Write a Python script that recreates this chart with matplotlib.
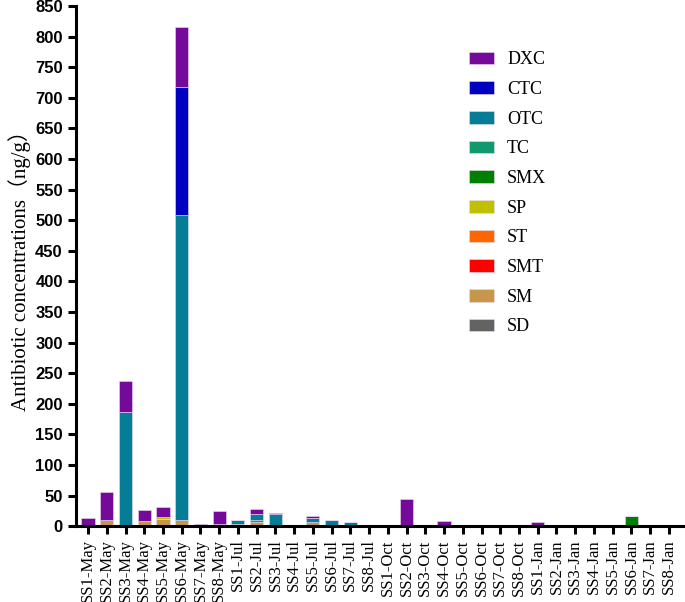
import matplotlib.pyplot as plt
import numpy as np

sites = ['SS1', 'SS2', 'SS3', 'SS4', 'SS5', 'SS6', 'SS7', 'SS8']
months = ['May', 'Jul', 'Oct', 'Jan']
labels = [s + '-' + m for m in months for s in sites]

# values in ng/g (May | Jul | Oct | Jan)
SD = [0]*8 + [0]*8 + [0]*8 + [0, 1, 0, 0, 0, 0, 0, 0]
SM = [2, 10, 2, 8, 11, 10, 0, 3] + [2, 7, 1, 0, 6, 0, 0, 0] + [0]*8 + [0]*8
SMT = [0]*32
ST = [0]*32
SP = [0, 0, 0, 1, 4, 0, 0, 0] + [0]*8 + [0]*8 + [0]*8
SMX = [0]*8 + [0]*8 + [0]*8 + [0, 0, 0, 0, 0, 16, 0, 0]
TC = [0]*8 + [2, 3, 0, 0, 0, 0, 0, 0] + [0]*8 + [0]*8
OTC = [0, 0, 185, 0, 0, 498, 0, 0] + [6, 10, 19, 0, 8, 10, 6, 0] + [0]*8 + [0]*8
CTC = [0, 0, 0, 0, 0, 210, 0, 0] + [0]*8 + [0]*8 + [0]*8
DXC = [11, 46, 51, 18, 16, 97, 4, 21] + [0, 8, 2, 0, 3, 0, 0, 0] + \
      [2, 44, 2, 8, 1, 0, 0, 0] + [7, 0, 0, 0, 0, 0, 0, 0]

series = [('SD', SD, '#636363'), ('SM', SM, '#c8964b'), ('SMT', SMT, '#ff0000'),
          ('ST', ST, '#ff6600'), ('SP', SP, '#c0c000'), ('SMX', SMX, '#008000'),
          ('TC', TC, '#10996c'), ('OTC', OTC, '#057d96'), ('CTC', CTC, '#0000c0'),
          ('DXC', DXC, '#75099a')]

fig = plt.figure(figsize=(6.85, 6.02), dpi=100)
ax = fig.add_axes([0.111, 0.126, 0.886, 0.864])

x = np.arange(len(labels))
bottom = np.zeros(len(labels))
handles = []
for name, vals, col in series:
    vals = np.array(vals, dtype=float)
    b = ax.bar(x, vals, 0.7, bottom=bottom, color=col, label=name,
               edgecolor='#e6dcef', linewidth=0.4)
    handles.append(b)
    bottom += vals

ax.set_xlim(-0.64, 31.75)
ax.set_ylim(0, 850)
ax.set_yticks(np.arange(0, 851, 50))
ax.set_xticks(x)
ax.set_xticklabels(labels, rotation=90, family='Liberation Serif', fontsize=12)
for t in ax.get_yticklabels():
    t.set_family('Liberation Sans')
    t.set_fontweight('bold')
    t.set_fontsize(12)

for s in ['top', 'right']:
    ax.spines[s].set_visible(False)
for s in ['left', 'bottom']:
    ax.spines[s].set_linewidth(2.2)
ax.tick_params(width=2.2, length=6)

ax.set_ylabel('Antibiotic concentrations（ng/g）',
              family=['Liberation Serif', 'Noto Sans CJK SC'], fontsize=15, labelpad=3)

ax.legend(handles[::-1], [s[0] for s in series][::-1], loc='upper left',
          bbox_to_anchor=(0.621, 0.944), frameon=False,
          prop={'family': 'Liberation Serif', 'size': 13},
          handlelength=1.35, handleheight=0.7, labelspacing=0.7, handletextpad=0.75)

fig.savefig('out.png', dpi=100)
